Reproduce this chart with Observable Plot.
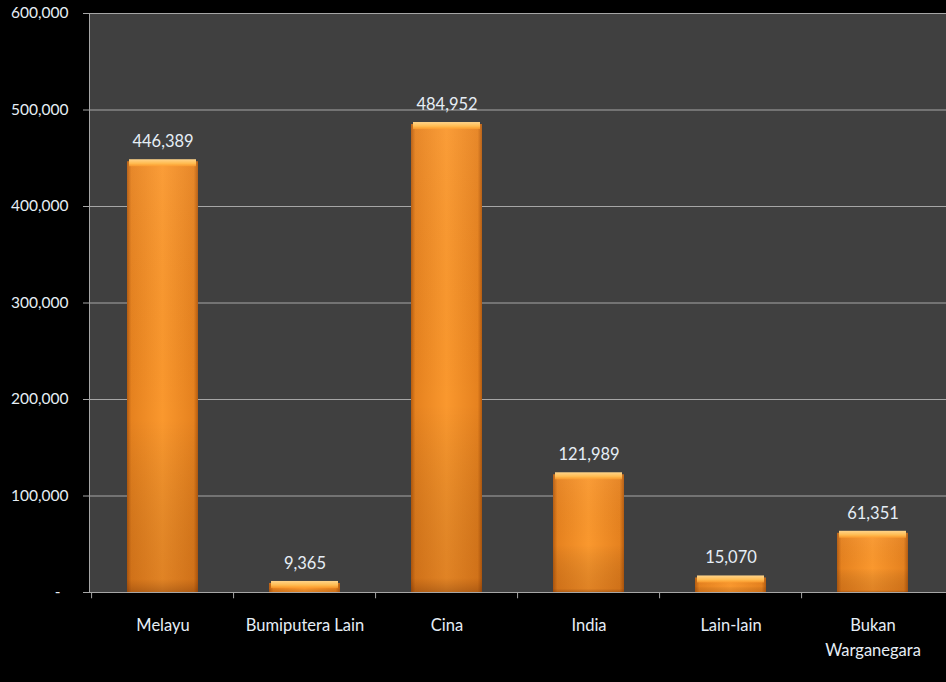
<!DOCTYPE html>
<html><head><meta charset="utf-8">
<script src="https://cdn.jsdelivr.net/npm/d3@7"></script>
<script src="https://cdn.jsdelivr.net/npm/@observablehq/plot@0.6"></script>
<style>html,body{margin:0;padding:0;background:#000;overflow:hidden;}</style>
</head><body><div id="chart"></div>
<script>
const categories = ["Melayu", "Bumiputera Lain", "Cina", "India", "Lain-lain", "Bukan\nWarganegara"];
const values = [446389, 9365, 484952, 121989, 15070, 61351];
const yTicks = [0, 100000, 200000, 300000, 400000, 500000, 600000];

const data = categories.map((c, i) => ({category: c, value: values[i]}));
const W = 946, H = 682, ML = 89, MR = 0, MT = 13, MB = 90;
const step = (W - ML - MR) / categories.length;
const fmt = d3.format(",");
const textColor = "#e6eef6";
const lineColor = "#a6a6a6";

const plot = Plot.plot({
  width: W, height: H,
  marginLeft: ML, marginRight: MR, marginTop: MT, marginBottom: MB,
  style: {background: "#000", fontFamily: "Lato, 'Open Sans', sans-serif", fontSize: "16px", color: textColor},
  x: {domain: categories, paddingInner: 0.5, paddingOuter: 0.25, label: null},
  y: {domain: [0, 600000], label: null},
  marks: [
    Plot.frame({fill: "#404040", stroke: null}),
    Plot.gridY(yTicks.filter(d => d > 0), {stroke: lineColor, strokeOpacity: 1}),
    Plot.axisY(yTicks, {tickSize: 6, tickPadding: 15, stroke: lineColor, fill: textColor,
      tickFormat: d => d === 0 ? "-\u00a0\u00a0" : fmt(d), label: null, fontSize: 15.5}),
    Plot.axisX({tickSize: 0, tickPadding: 21, fill: textColor, lineHeight: 1.5, label: null, fontSize: 16.5}),
    Plot.ruleX(categories, {x: d => d, y1: 0, y2: -6500, dx: -step / 2, stroke: lineColor}),
    Plot.ruleY([0], {stroke: lineColor}),
    Plot.frame({anchor: "left", stroke: lineColor}),
    Plot.barY(data, {x: "category", y: "value", fill: "url(#barH)"}),
    Plot.barY(data, {x: "category", y: "value", fill: "url(#barV)"}),
    Plot.barY(data, {x: "category", y1: "value", y2: "value", insetTop: -2, insetBottom: -5, insetLeft: 2, insetRight: 2, fill: "url(#barTop)"}),
    Plot.text(data, {x: "category", y: "value", text: d => fmt(d.value), dy: -20, fill: textColor, fontSize: 16.5})
  ]
});

const defs = d3.select(plot).insert("defs", ":first-child");
function grad(id, horiz, stops) {
  const g = defs.append("linearGradient").attr("id", id)
    .attr("x1", 0).attr("y1", 0).attr("x2", horiz ? 1 : 0).attr("y2", horiz ? 0 : 1);
  stops.forEach(([o, c, op]) => g.append("stop").attr("offset", o).attr("stop-color", c).attr("stop-opacity", op ?? 1));
}
grad("barH", true, [[0, "#b55c10"], [0.06, "#e6821f"], [0.5, "#fa982e"], [0.94, "#e6821f"], [1, "#b55c10"]]);
grad("barV", false, [[0, "#ffffff", 0.05], [0.6, "#000000", 0], [0.97, "#7a3000", 0.2], [1, "#5a2000", 0.4]]);
grad("barTop", false, [[0, "#ffd48a"], [0.6, "#ffbb50"], [1, "#ffa030", 0.7]]);

document.getElementById("chart").appendChild(plot);
</script>
</body></html>
